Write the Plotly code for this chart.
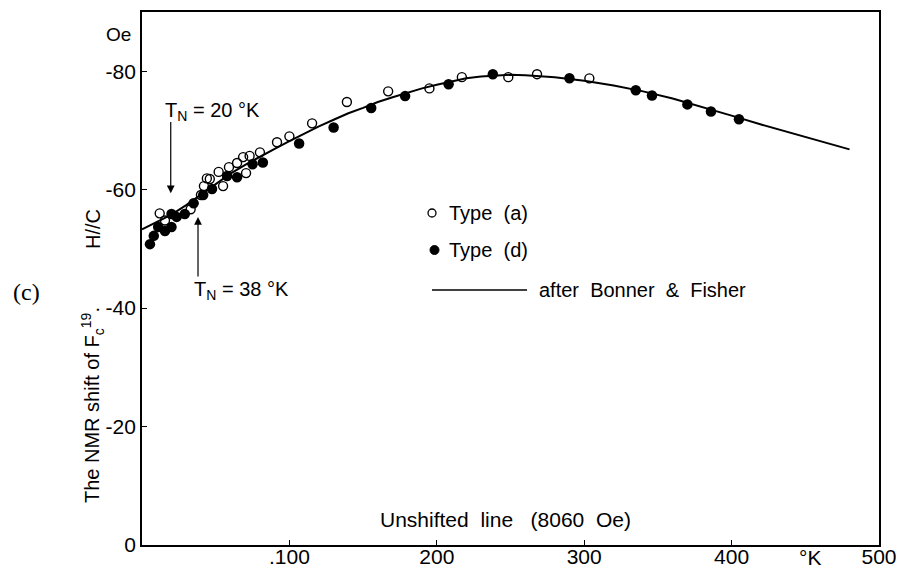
import plotly.graph_objects as go

# ---- data ----
curve_T = [0, 10, 20, 30, 40, 50, 60, 70, 80, 90, 100, 110, 120, 130, 140, 150, 160, 170, 180, 190,
           200, 210, 220, 230, 240, 250, 260, 270, 280, 290, 300, 320, 340, 360, 380, 400, 420, 440, 460, 480]
curve_H = [-53.3, -54.5, -55.8, -57.4, -59.2, -61.0, -62.7, -64.2, -65.6, -66.9, -68.2, -69.5, -70.7, -71.8,
           -72.9, -73.8, -74.8, -75.6, -76.4, -77.1, -77.7, -78.3, -78.8, -79.1, -79.3, -79.4, -79.3, -79.2,
           -79.0, -78.7, -78.4, -77.6, -76.6, -75.4, -74.0, -72.5, -71.0, -69.6, -68.2, -66.8]

typeA_T = [12, 15.6, 33, 40, 42, 44, 46, 52, 55, 59, 64.5, 68.6, 70.6, 73, 80, 91.6, 100, 115.4, 139,
           167, 195, 217, 248.5, 268, 303.5]
typeA_H = [-56.0, -54.8, -56.7, -59.1, -60.6, -61.9, -61.8, -63.0, -60.6, -63.8, -64.5, -65.5, -62.8,
           -65.7, -66.3, -68.0, -69.0, -71.2, -74.8, -76.6, -77.1, -79.0, -79.0, -79.5, -78.8]

typeD_T = [5.4, 8, 11, 15.6, 20, 20, 23.5, 29, 35, 41.5, 47.5, 57.7, 64.5, 75, 82, 106.6, 130, 155.5,
           178.5, 208, 238, 290, 335, 346, 370, 386, 405]
typeD_H = [-50.8, -52.2, -53.7, -53.0, -53.7, -55.9, -55.4, -55.9, -57.7, -59.1, -60.1, -62.3, -62.1,
           -64.3, -64.6, -67.8, -70.5, -73.8, -75.8, -77.8, -79.5, -78.8, -76.8, -75.9, -74.4, -73.2, -71.9]

x_tickvals = [100, 200, 300, 400, 500]
x_ticktext = [".100", "200", "300", "400", "500"]
y_tickvals = [0, -20, -40, -60, -80]
y_ticktext = ["0", "-20", "-40", "-60", "-80"]

# ---- layout helpers (pixel -> paper) ----
L, R, T, B = 142, 19, 12, 23
W, H = 898, 568
PW, PH = W - L - R, H - T - B


def px(x):
    return (x - L) / PW


def py(y):
    return (H - B - y) / PH


FONT = "Liberation Sans, Arial, sans-serif"

fig = go.Figure()
fig.add_trace(go.Scatter(x=curve_T, y=curve_H, mode="lines",
                         line=dict(color="black", width=2), showlegend=False))
fig.add_trace(go.Scatter(x=typeA_T, y=typeA_H, mode="markers",
                         marker=dict(symbol="circle-open", size=9, color="black", line=dict(width=1.4)),
                         showlegend=False))
fig.add_trace(go.Scatter(x=typeD_T, y=typeD_H, mode="markers",
                         marker=dict(symbol="circle", size=10.5, color="black"),
                         showlegend=False))

ann = []


def text(s, x, y, size=20, xanchor="left", angle=0, family=FONT):
    ann.append(dict(text=s, x=px(x), y=py(y), xref="paper", yref="paper", showarrow=False,
                    xanchor=xanchor, yanchor="middle", textangle=angle,
                    font=dict(family=family, size=size, color="black")))


text("T<sub>N</sub> = 20 °K", 163, 112, 20)
text("T<sub>N</sub> = 38 °K", 192, 290, 20)
text("Type  (a)", 447, 213, 20)
text("Type  (d)", 447, 250, 20)
text("after  Bonner  &  Fisher", 537, 290, 20)
text("Unshifted  line   (8060  Oe)", 378, 519, 21)
text("°K", 810, 557, 21, xanchor="center")
text("Oe", 133, 34, 19, xanchor="right")
text("(c)", 26, 292, 24, xanchor="center", family="Liberation Serif, Times New Roman, serif")
text("The NMR shift of F<sub>c</sub><sup>19</sup>.", 93, 405, 20, xanchor="center", angle=-90)
text("H//C", 93, 229, 20, xanchor="center", angle=-90)

# arrows for Neel temperatures
for tip_x, tip_y, tail_y in [(19.5, -59.4, -71.7), (38, -55.4, -45.1)]:
    ann.append(dict(x=tip_x, y=tip_y, ax=tip_x, ay=tail_y, xref="x", yref="y", axref="x", ayref="y",
                    text="", showarrow=True, arrowhead=2, arrowsize=1.3, arrowwidth=1.2,
                    arrowcolor="black"))

shapes = [
    dict(type="circle", xref="paper", yref="paper", x0=px(428), x1=px(436), y0=py(217), y1=py(209),
         line=dict(color="black", width=1.3), fillcolor="white"),
    dict(type="circle", xref="paper", yref="paper", x0=px(430), x1=px(439), y0=py(254.5), y1=py(245.5),
         line=dict(color="black", width=1), fillcolor="black"),
    dict(type="line", xref="paper", yref="paper", x0=px(432), x1=px(527), y0=py(290), y1=py(290),
         line=dict(color="black", width=1.5)),
]

fig.update_layout(
    width=W, height=H, margin=dict(l=L, r=R, t=T, b=B),
    paper_bgcolor="white", plot_bgcolor="white",
    annotations=ann, shapes=shapes,
    xaxis=dict(range=[0, 500], tickvals=x_tickvals, ticktext=x_ticktext, ticks="inside", ticklen=5,
               tickwidth=1.3, tickcolor="black", showgrid=False, zeroline=False, showline=True,
               linecolor="black", linewidth=1.8, mirror=True, automargin=False,
               ticklabelstandoff=-8,
               tickfont=dict(family=FONT, size=21, color="black")),
    yaxis=dict(range=[0, -90], tickvals=y_tickvals, ticktext=y_ticktext, ticks="inside", ticklen=5,
               tickwidth=1.3, tickcolor="black", showgrid=False, zeroline=False, showline=True,
               linecolor="black", linewidth=1.8, mirror=True, automargin=False,
               tickfont=dict(family=FONT, size=21, color="black")),
)

fig.write_html("out.html")
